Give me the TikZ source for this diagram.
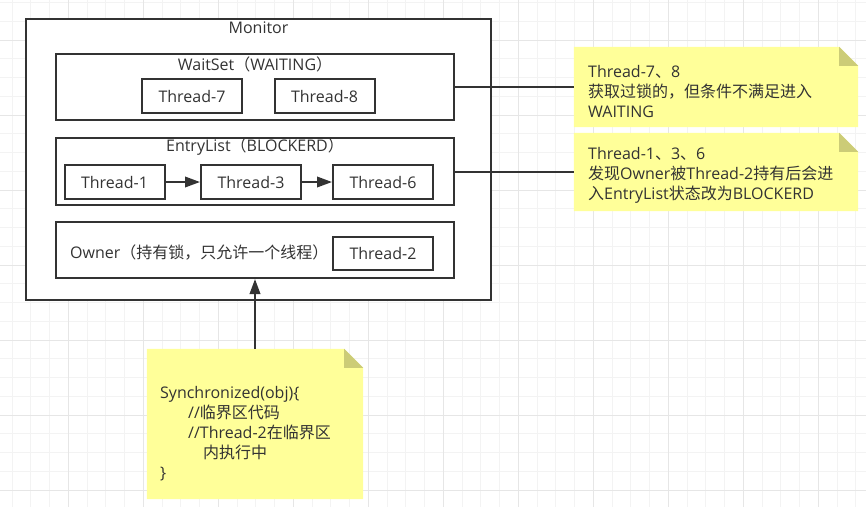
\documentclass[tikz,border=0pt]{standalone}
\usepackage{fontspec}
\setmainfont{Open Sans}
\newfontfamily\cjk{Noto Sans CJK SC}
\usetikzlibrary{arrows.meta,backgrounds}

\definecolor{linegray}{RGB}{51,51,51}
\definecolor{notefill}{RGB}{255,255,153}
\definecolor{notefold}{RGB}{204,204,119}
\definecolor{gridminor}{RGB}{243,243,243}
\definecolor{gridmajor}{RGB}{230,230,230}

\tikzset{
  box/.style={draw=linegray, line width=2pt, fill=white, inner sep=0pt},
  thread/.style={box, minimum width=100pt, minimum height=34pt},
  lbl/.style={inner sep=0pt},
  note/.style={inner sep=0pt, draw=none},
  link/.style={draw=linegray, line width=2pt},
  flow/.style={link, -{Triangle[length=15pt,width=10.5pt]}},
  minorline/.style={draw=gridminor, line width=1pt},
  majorline/.style={draw=gridmajor, line width=1pt},
}

\begin{document}
\begin{tikzpicture}[x=1pt, y=-1pt, every node/.style={text=linegray, font=\fontsize{16}{20}\selectfont}]
    \useasboundingbox (0,0) rectangle (866,507);
    % grid paper
    \begin{scope}[on background layer]
        \fill[white] (0,0) rectangle (866,507);
        \foreach \i in {0,...,45} \draw[minorline] ({12.05+18.75*\i},0) -- ({12.05+18.75*\i},507);
        \foreach \i in {0,...,26} \draw[minorline] (0,{2.5+18.75*\i}) -- (866,{2.5+18.75*\i});
        \foreach \i in {0,...,10} \draw[majorline] ({68.3+75*\i},0) -- ({68.3+75*\i},507);
        \foreach \i in {0,...,6} \draw[majorline] (0,{40+75*\i}) -- (866,{40+75*\i});
    \end{scope}

    % monitor
    \node[box, minimum width=465pt, minimum height=281pt] (monitor) at (258.5,159.5) {};
    \node[lbl] (monitorTitle) at ([yshift=-10pt]monitor.north) {Monitor};

    % wait set
    \node[box, minimum width=398pt, minimum height=66pt] (waitSet) at (255,87) {};
    \node[lbl] (waitTitle) at ([yshift=-11pt]waitSet.north) {WaitSet{\cjk （}WAITING{\cjk ）}};
    \node[thread] (t7) at (192,96) {Thread-7};
    \node[thread] (t8) at (324.5,96) {Thread-8};

    % entry list
    \node[box, minimum width=398pt, minimum height=67pt] (entryList) at (255,171.5) {};
    \node[lbl] (entryTitle) at ([yshift=-10pt]entryList.north) {EntryList{\cjk （}BLOCKERD{\cjk ）}};
    \node[thread] (t1) at (114.5,182) {Thread-1};
    \node[thread] (t3) at (251,182) {Thread-3};
    \node[thread] (t6) at (383,182) {Thread-6};
    \draw[flow] (t1) -- (t3);
    \draw[flow] (t3) -- (t6);

    % owner
    \node[box, minimum width=398pt, minimum height=56pt] (owner) at (255,250) {};
    \node[lbl, anchor=west] (ownerText) at (70,252) {Owner{\cjk （持有锁，只允许一个线程）}};
    \node[thread, minimum height=33pt] (t2) at (383,253.5) {Thread-2};

    % notes
    \node[note, minimum width=284pt, minimum height=80pt] (noteWait) at (716,87) {};
    \node[lbl, anchor=west, align=left] (waitInfo) at (588,91)
        {Thread-7{\cjk 、}8\\{\cjk 获取过锁的，但条件不满足进入}\\WAITING};
    \node[note, minimum width=284pt, minimum height=78pt] (noteEntry) at (716,172) {};
    \node[lbl, anchor=west, align=left] (entryInfo) at (588,175)
        {Thread-1{\cjk 、}3{\cjk 、}6\\{\cjk 发现}Owner{\cjk 被}Thread-2{\cjk 持有后会进}\\{\cjk 入}EntryList{\cjk 状态改为}BLOCKERD};
    \node[note, minimum width=216pt, minimum height=150pt] (noteSync) at (255,424) {};
    \node[lbl, anchor=west, align=left] (syncCode) at (160,434)
        {Synchronized(obj)\{\\\hspace*{28pt}//{\cjk 临界区代码}\\\hspace*{28pt}//Thread-2{\cjk 在临界区}\\\hspace*{43pt}{\cjk 内执行中}\\\}};

    \begin{scope}[on background layer]
        \foreach \n in {noteWait,noteEntry,noteSync} {
            \fill[notefill] (\n.south west) -- (\n.north west) -- ([xshift=-19pt]\n.north east)
                -- ([yshift=-19pt]\n.north east) -- (\n.south east) -- cycle;
            \fill[notefold] ([xshift=-19pt]\n.north east) -- ([xshift=-19pt,yshift=-19pt]\n.north east)
                -- ([yshift=-19pt]\n.north east) -- cycle;
        }
    \end{scope}

    % connectors
    \draw[link] (waitSet) -- (noteWait);
    \draw[link] (entryList.east) -- (entryList.east -| noteEntry.west);
    \draw[flow] (noteSync) -- (owner);
\end{tikzpicture}
\end{document}
